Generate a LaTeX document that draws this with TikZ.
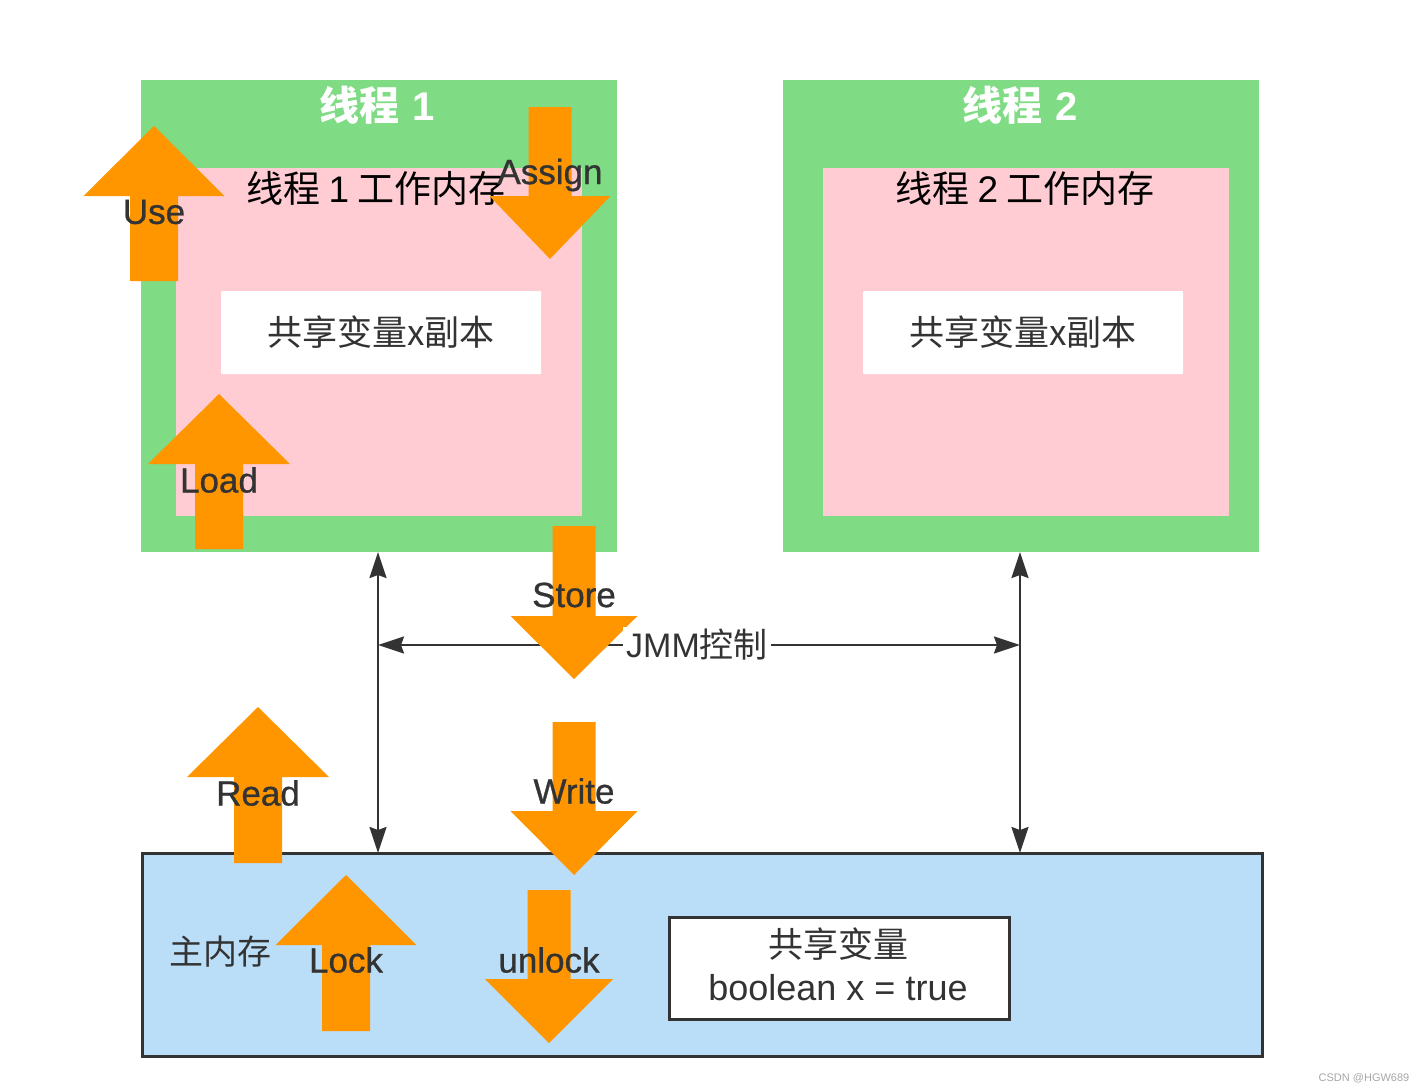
\documentclass[tikz,border=0pt]{standalone}
\usepackage{fontspec}
\setmainfont{Noto Sans CJK SC}
\newfontfamily\latin{Liberation Sans}
\newfontfamily\latinmed[FakeBold=0.8]{Liberation Sans}
\usetikzlibrary{arrows.meta}
\definecolor{grn}{HTML}{7FDB84}
\definecolor{pnk}{HTML}{FFCCD3}
\definecolor{org}{HTML}{FF9600}
\definecolor{lblue}{HTML}{BBDEF8}
\definecolor{dk}{HTML}{333333}
% block arrow: #1 cx, #2 apex y, #3 head base y, #4 tail y, #5 head half width, #6 shaft half width
\newcommand\blkarrow[6]{\fill[org] ({#1-#6},#4) -- ({#1-#6},#3) -- ({#1-#5},#3) -- (#1,#2) -- ({#1+#5},#3) -- ({#1+#6},#3) -- ({#1+#6},#4) -- cycle;}
\tikzset{
  box/.style={inner sep=0pt, outer sep=0pt, anchor=north west},
  greenbox/.style={box, fill=grn, minimum width=476pt, minimum height=472pt},
  pinkbox/.style={box, fill=pnk, minimum width=406pt, minimum height=348pt},
  copybox/.style={box, fill=white, minimum width=320pt, minimum height=83pt, rounded corners=1pt},
  lbl/.style={text=dk, font=\fontsize{35}{40}\selectfont\latinmed, inner sep=0pt},
  conn/.style={draw=dk, line width=2.4pt, {Stealth[length=26pt,width=17pt,inset=3pt]}-{Stealth[length=26pt,width=17pt,inset=3pt]}},
}
\begin{document}
\begin{tikzpicture}[x=1pt,y=-1pt]
\path[use as bounding box] (0,0) rectangle (1424,1092);

% thread boxes
\node[greenbox] (t1) at (141,80) {};
\node[pinkbox] (p1) at (176,168) {};
\node[greenbox] (t2) at (783,80) {};
\node[pinkbox] (p2) at (823,168) {};
\node[text=white, font=\fontsize{40}{46}\selectfont\bfseries] (t1title) at (377,105) {线程\hspace{4pt} {\latin 1}};
\node[text=white, font=\fontsize{40}{46}\selectfont\bfseries] (t2title) at (1020,105) {线程\hspace{4pt} {\latin 2}};
\node[text=black, font=\fontsize{37}{42}\selectfont] (p1title) at (376,188) {线程 {\latin 1} 工作内存};
\node[text=black, font=\fontsize{37}{42}\selectfont] (p2title) at (1025,188) {线程 {\latin 2} 工作内存};
\node[copybox] (c1) at (221,291) {};
\node[copybox] (c2) at (863,291) {};
\node[text=dk, font=\fontsize{35}{40}\selectfont] at (c1.center) {共享变量x副本};
\node[text=dk, font=\fontsize{35}{40}\selectfont] at (c2.center) {共享变量x副本};

% main memory
\node[box, draw=dk, line width=3pt, fill=lblue, minimum width=1120pt, minimum height=203pt] (mm) at (142,853) {};
\node[text=dk, font=\fontsize{34}{40}\selectfont] (mmtitle) at (220,952) {主内存};
\node[box, draw=dk, line width=3pt, fill=white, minimum width=340pt, minimum height=102pt] (sv) at (669,917) {};
\node[text=dk, font=\fontsize{35}{40}\selectfont] (svtext1) at (838,944) {共享变量};
\node[text=dk, font=\fontsize{36}{40}\selectfont\latin] (svtext2) at (838,988) {boolean x = true};

% JMM connectors
\coordinate (v1top) at (378,552);
\coordinate (v1bot) at (378,853);
\coordinate (v2top) at (1020,552);
\coordinate (v2bot) at (1020,853);
\coordinate (h1) at (378,645);
\coordinate (h2) at (1020,645);
\draw[conn] (v1top) -- (v1bot);
\draw[conn] (v2top) -- (v2bot);
\draw[conn] (h1) -- (h2);

% orange block arrows
\blkarrow{154}{126}{196}{281}{70.5}{24}   % Use
\blkarrow{550}{259}{196}{107}{60.5}{21.5} % Assign
\blkarrow{219}{394}{464}{549}{71}{24}     % Load
\blkarrow{574}{679}{616}{526}{63.5}{21.5} % Store
\blkarrow{258}{707}{777}{863}{71}{24}     % Read
\blkarrow{574}{875}{811}{722}{63.5}{21.5} % Write
\blkarrow{346}{875}{945}{1031}{70.5}{24}  % Lock
\blkarrow{549}{1043}{979}{890}{64}{21.5}  % unlock

\node[text=dk, fill=white, inner xsep=3pt, inner ysep=2pt, font=\fontsize{34}{40}\selectfont] (jmm) at (697,645) {{\latin JMM}控制};

\node[lbl] (use) at (154,212) {Use};
\node[lbl] (assign) at (550,175) {Assign};
\node[lbl] (load) at (219,480) {Load};
\node[lbl] (store) at (574,595) {Store};
\node[lbl] (read) at (258,793) {Read};
\node[lbl] (write) at (574,791) {Write};
\node[lbl] (lock) at (346,960) {Lock};
\node[lbl] (unlock) at (549,960) {unlock};

\node[text=gray!70, font=\fontsize{11}{13}\selectfont\latin] (wm) at (1364,1078) {CSDN @HGW689};
\end{tikzpicture}
\end{document}
